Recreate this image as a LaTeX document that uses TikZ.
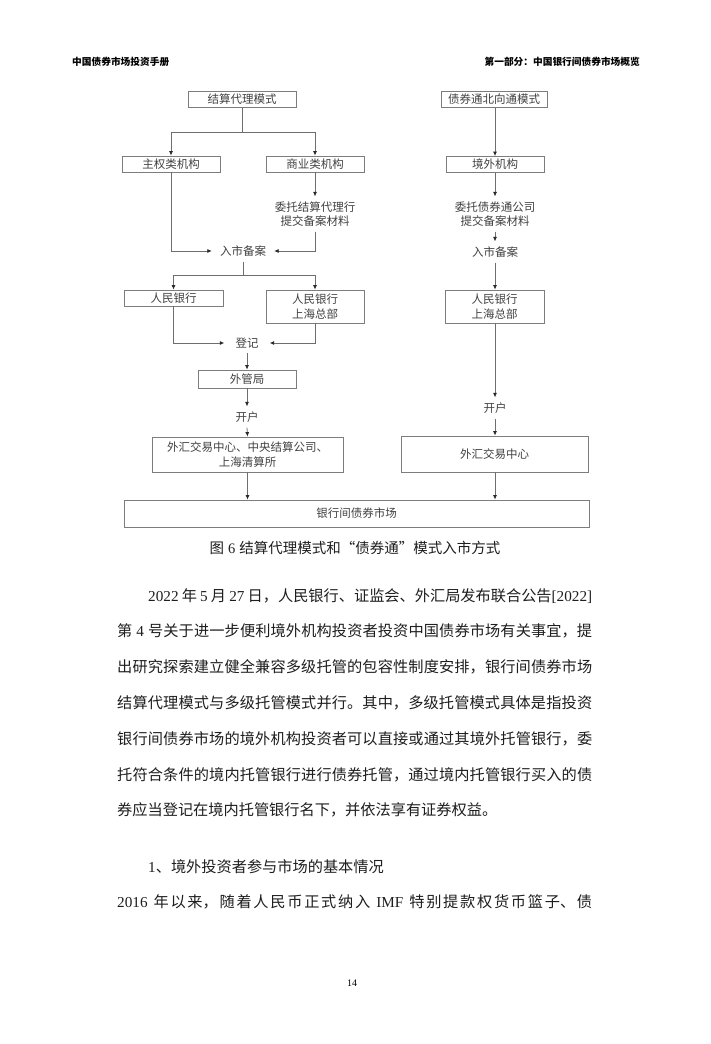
\documentclass[tikz,border=0pt]{standalone}
\usepackage{fontspec}
\setmainfont{Liberation Serif}
\newfontfamily\cjk{Noto Sans CJK SC}
\usetikzlibrary{arrows.meta}
\XeTeXlinebreaklocale "zh"
\XeTeXlinebreakskip=0pt plus 1pt
\definecolor{txtgray}{RGB}{65,65,65}
\definecolor{boxgray}{RGB}{125,125,125}
\definecolor{linegray}{RGB}{110,110,110}
\definecolor{tipcol}{RGB}{40,40,40}
\definecolor{bodyblack}{RGB}{30,30,30}
\newcommand\lat[1]{{\rmfamily #1}}
\newcommand\dfont{\cjk\fontsize{11.5}{15}\selectfont}
\tikzset{
  box/.style={draw=boxgray, line width=0.8pt, inner sep=0pt, align=center, text=txtgray, font=\dfont},
  lbl/.style={inner xsep=8pt, inner ysep=5pt, align=center, text=txtgray, font=\dfont},
  arr/.style={draw=linegray, line width=0.8pt, -{Latex[length=4.5pt,width=4pt,color=tipcol]}},
  ln/.style={draw=linegray, line width=0.8pt},
  hdr/.style={inner sep=0pt, text=black, font=\cjk\bfseries\fontsize{9.7}{10}\selectfont},
  body/.style={inner sep=0pt, text=bodyblack, font=\cjk\fontsize{15.2}{35.8}\selectfont}
}
\begin{document}
\begin{tikzpicture}[x=1pt,y=-1pt]
\fill[white] (0,0) rectangle (710,1044);
\useasboundingbox (0,0) rectangle (710,1044);

% header
\node[hdr, anchor=base west] (h1) at (72,65.5) {中国债券市场投资手册};
\node[hdr, anchor=base east] (h2) at (640,65.5) {第一部分：中国银行间债券市场概览};

% ---------- left column ----------
\node[box, minimum width=108pt, minimum height=16pt] (jsdl) at (242,99.5) {结算代理模式};
\node[box, minimum width=98pt, minimum height=16pt] (zq) at (171,164) {主权类机构};
\node[box, minimum width=98pt, minimum height=16pt] (sy) at (315,164) {商业类机构};
\node[lbl, font=\cjk\fontsize{11.5}{14}\selectfont] (wt1) at (315,214) {委托结算代理行\\提交备案材料};
\node[lbl] (rs1) at (243,251) {入市备案};
\node[box, minimum width=99pt, minimum height=16pt] (rmyh) at (173.5,298) {人民银行};
\node[box, minimum width=98pt, minimum height=33pt] (shzb) at (315,306.5) {人民银行\\上海总部};
\node[lbl, inner xsep=11pt] (dj) at (247,343) {登记};
\node[box, minimum width=98pt, minimum height=18pt] (wgj) at (247,379) {外管局};
\node[lbl] (kh1) at (247,417) {开户};
\node[box, minimum width=191pt, minimum height=35pt, font=\cjk\fontsize{11.5}{15.5}\selectfont] (bl) at (247.5,454.5) {外汇交易中心、中央结算公司、\\上海清算所};

% ---------- right column ----------
\node[box, minimum width=106pt, minimum height=16pt] (bt) at (494,99.5) {债券通北向通模式};
\node[box, minimum width=98pt, minimum height=16pt] (jw) at (495,164.5) {境外机构};
\node[lbl, font=\cjk\fontsize{11.5}{14}\selectfont] (wt2) at (495,214) {委托债券通公司\\提交备案材料};
\node[lbl] (rs2) at (495,252) {入市备案};
\node[box, minimum width=99pt, minimum height=33pt] (shzb2) at (494.5,306.5) {人民银行\\上海总部};
\node[lbl] (kh2) at (495,408) {开户};
\node[box, minimum width=187pt, minimum height=36pt] (br) at (494.5,454) {外汇交易中心};

% ---------- bottom ----------
\node[box, minimum width=465pt, minimum height=27pt] (yhj) at (356.5,513.5) {银行间债券市场};

% connectors left
\coordinate (b1) at (242,132);
\draw[ln] (jsdl.south) -- (b1);
\draw[arr] (b1) -| (zq.north);
\draw[arr] (b1) -| (sy.north);
\draw[arr] (sy.south) -- (wt1.north);
\draw[arr] (zq.south) |- (rs1.west);
\draw[arr] (wt1.south) |- (rs1.east);
\coordinate (b2) at (243,275);
\draw[ln] (rs1.south) -- (b2);
\draw[arr] (b2) -| (rmyh.north);
\draw[arr] (b2) -| (shzb.north);
\draw[arr] (rmyh.south) |- (dj.west);
\draw[arr] (shzb.south) |- (dj.east);
\draw[arr] (dj.south) -- (wgj.north);
\draw[arr] (wgj.south) -- (kh1.north);
\draw[arr] (kh1.south) -- (bl.north);
\draw[arr] (bl.south) -- (bl.south |- yhj.north);

% connectors right
\draw[arr] (bt.south -| jw.north) -- (jw.north);
\draw[arr] (jw.south) -- (wt2.north);
\draw[arr] (wt2.south) -- (rs2.north);
\draw[arr] (rs2.south) -- (rs2.south |- shzb2.north);
\draw[arr] (shzb2.south -| kh2.north) -- (kh2.north);
\draw[arr] (kh2.south) -- (kh2.south |- br.north);
\draw[arr] (br.south -| kh2.south) -- (kh2.south |- yhj.north);

% caption
\node[inner sep=0pt, text=bodyblack, font=\cjk\fontsize{14.5}{16}\selectfont] (cap) at (355,548) {图\lat{\hspace{4pt}6\hspace{4pt}}结算代理模式和“债券通”模式入市方式};

% body text
\node[body, anchor=base west] (p1) at (117,601) {\parbox[t]{475pt}{\parindent=0pt\hspace*{31pt}\lat{2022 }年\lat{ 5 }月\lat{ 27 }日，人民银行、证监会、外汇局发布联合公告\lat{[2022]}\linebreak
第\lat{ 4 }号关于进一步便利境外机构投资者投资中国债券市场有关事宜，提\linebreak
出研究探索建立健全兼容多级托管的包容性制度安排，银行间债券市场\linebreak
结算代理模式与多级托管模式并行。其中，多级托管模式具体是指投资\linebreak
银行间债券市场的境外机构投资者可以直接或通过其境外托管银行，委\linebreak
托符合条件的境内托管银行进行债券托管，通过境内托管银行买入的债\linebreak
券应当登记在境内托管银行名下，并依法享有证券权益。}};

\node[body, anchor=base west] (s1) at (148,872) {\lat{1}、境外投资者参与市场的基本情况};
\node[body, anchor=base west] (p2) at (117,907) {\parbox[t]{475pt}{\parindent=0pt\parfillskip=0pt\lat{2016\hspace{6pt}}年以来，随着人民币正式纳入\lat{\hspace{6pt}IMF\hspace{6pt}}特别提款权货币篮子、债}};

% page number
\node[inner sep=0pt, font=\rmfamily\fontsize{10}{12}\selectfont] (pg) at (352,983) {14};
\end{tikzpicture}
\end{document}
